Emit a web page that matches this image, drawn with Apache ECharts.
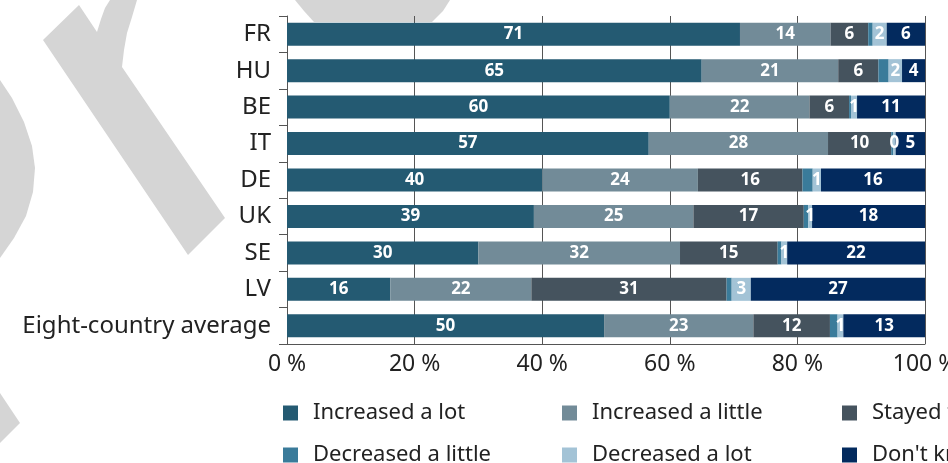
<!DOCTYPE html>
<html>
<head>
<meta charset="utf-8">
<script src="https://cdn.jsdelivr.net/npm/echarts@6/dist/echarts.min.js"></script>
<style>
  html, body { margin: 0; padding: 0; background: #fff; }
  #chart { width: 948px; height: 463px; }
</style>
</head>
<body>
<div id="chart"></div>
<script>
// rows, top to bottom
var countries = ["FR", "HU", "BE", "IT", "DE", "UK", "SE", "LV", "Eight-country average"];

// shares in %
var increasedLot    = [71.0, 65.0, 60.0, 56.7, 40.0, 38.7, 30.0, 16.2, 49.7];
var increasedLittle = [14.2, 21.4, 21.9, 28.1, 24.4, 25.0, 31.6, 22.1, 23.4];
var stayedSame      = [5.9, 6.3, 6.2, 9.9, 16.4, 17.3, 15.3, 30.6, 12.0];
var decreasedLittle = [0.7, 1.6, 0.3, 0.3, 1.6, 0.7, 0.6, 0.8, 1.2];
var decreasedLot    = [2.2, 2.1, 0.95, 0.4, 1.3, 0.6, 0.9, 3.0, 0.9];
var dontKnow        = [6.0, 3.6, 10.7, 4.6, 16.3, 17.7, 21.6, 27.3, 12.8];

var xTicks = [0, 20, 40, 60, 80, 100];

var seriesNames = ["Increased a lot", "Increased a little", "Stayed the same",
                   "Decreased a little", "Decreased a lot", "Don't know"];
var seriesData = [increasedLot, increasedLittle, stayedSame, decreasedLittle, decreasedLot, dontKnow];
var seriesColors = ["#245a72", "#728b98", "#45535e", "#3a7b9a", "#a3c3d6", "#032a5e"];

var font = "Noto Sans";

var series = seriesNames.map(function (name, i) {
  return {
    name: name,
    type: "bar",
    stack: "total",
    barWidth: 23,
    data: seriesData[i],
    itemStyle: { color: seriesColors[i] },
    label: {
      show: i !== 3,   // the small "decreased a little" parts carry no numbers
      position: "inside",
      color: "#fff",
      fontFamily: font,
      fontWeight: "bold",
      fontSize: 17,
      formatter: function (p) { return Math.round(p.value); }
    },
    emphasis: { disabled: true }
  };
});

function legendFor(names, left) {
  return {
    data: names,
    orient: "vertical",
    left: left,
    top: 401,
    height: 120,
    padding: 0,
    itemGap: 18,
    itemWidth: 15,
    itemHeight: 15,
    icon: "rect",
    selectedMode: false,
    textStyle: {
      fontFamily: font,
      fontSize: 22,
      lineHeight: 24,
      color: "#222",
      padding: [0, 0, 0, 10]
    }
  };
}

// grey watermark pieces behind the chart
var watermark = "#d5d5d5";
var graphics = [
  { type: "polygon", z: -10, shape: { points: [[0, 80], [12, 98], [24, 122], [32, 146], [35, 168], [33, 192], [26, 216], [14, 238], [0, 258]] }, style: { fill: watermark } },
  { type: "polygon", z: -10, shape: { points: [[43, 40], [79, 5], [97, 32], [101, 19], [105, 8], [110, 0], [137, 0], [132, 17], [127, 33], [124, 50], [122, 67], [225, 218], [188, 255]] }, style: { fill: watermark } },
  { type: "polygon", z: -10, shape: { points: [[295, 0], [304, 11], [314, 22], [432, 22], [443, 11], [450, 0]] }, style: { fill: watermark } },
  { type: "polygon", z: -10, shape: { points: [[0, 393], [20, 423], [0, 443]] }, style: { fill: watermark } }
];

var chart = echarts.init(document.getElementById("chart"));
chart.setOption({
  backgroundColor: "#fff",
  animation: false,
  textStyle: { fontFamily: font },
  graphic: graphics,
  grid: { left: 287, right: 23, top: 16, bottom: 119, containLabel: false, outerBoundsMode: "none" },
  legend: [
    legendFor([seriesNames[0], seriesNames[3]], 283),
    legendFor([seriesNames[1], seriesNames[4]], 562),
    legendFor([seriesNames[2], seriesNames[5]], 842)
  ],
  xAxis: {
    type: "value",
    min: xTicks[0],
    max: xTicks[xTicks.length - 1],
    interval: 20,
    axisLine: { show: true, lineStyle: { color: "#555", width: 1 } },
    axisTick: { show: false },
    splitLine: { show: true, lineStyle: { color: "#555", width: 1 } },
    axisLabel: {
      margin: 9,
      fontFamily: font,
      fontSize: 23,
      color: "#222",
      formatter: "{value} %"
    }
  },
  yAxis: {
    type: "category",
    inverse: true,
    data: countries,
    axisLine: { show: true, lineStyle: { color: "#555", width: 1 } },
    axisTick: { show: true, length: 8, lineStyle: { color: "#555" } },
    axisLabel: {
      margin: 16,
      fontFamily: font,
      fontSize: 24,
      color: "#222"
    }
  },
  series: series
});
</script>
</body>
</html>
